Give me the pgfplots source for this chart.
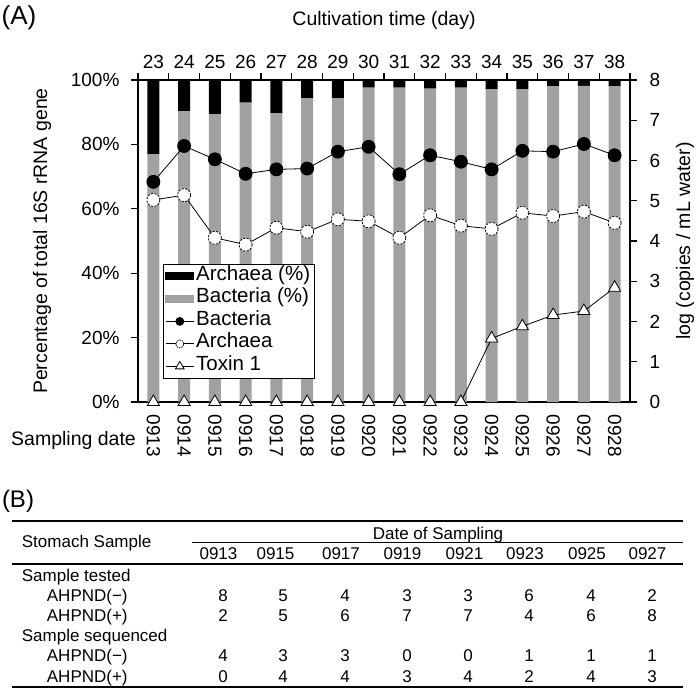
\documentclass[border=0pt]{standalone}
\usepackage{fontspec}
\setmainfont{Liberation Sans}
\usepackage{pgfplots}
\usepackage{pgfplotstable}
\pgfplotsset{compat=1.18}
\pgfplotsset{
  myleglinestyle/.style={legend image code/.code={\draw[mark repeat=2,mark phase=2,##1] plot coordinates {(0pt,0pt) (14pt,0pt) (28pt,0pt)};}},
  mylegbar/.style={legend image code/.code={\fill[##1] (0pt,-3.5pt) rectangle (28pt,3.5pt);}},
}
\newcommand{\lf}{\fontsize{20.5}{24}\selectfont}
\pgfplotstableread{
x bact arch bl al tox
0 77.0 23.0 5.47 5.02 0
1 90.3 9.7 6.36 5.14 0
2 89.4 10.6 6.03 4.08 0
3 93.0 7.0 5.67 3.91 0
4 89.6 10.4 5.78 4.33 0
5 94.4 5.6 5.80 4.23 0
6 94.4 5.6 6.22 4.54 0
7 97.6 2.4 6.34 4.49 0
8 97.6 2.4 5.66 4.08 0
9 97.3 2.7 6.13 4.64 0
10 97.6 2.4 5.97 4.38 0
11 97.1 2.9 5.78 4.30 1.58
12 97.1 2.9 6.24 4.70 1.88
13 98.0 2.0 6.22 4.62 2.16
14 98.2 1.8 6.41 4.73 2.26
15 98.1 1.9 6.13 4.45 2.84
}\data
\begin{document}
\begin{tikzpicture}
\useasboundingbox (0pt,0pt) rectangle (697pt,-689pt);
\begin{axis}[
  at={(138pt,-402pt)}, anchor=south west,
  scale only axis, width=492pt, height=322pt,
  xmin=-0.5, xmax=15.5, ymin=0, ymax=100,
  axis x line*=bottom, axis y line*=left,
  ybar stacked, bar width=12pt,
  xtick={0,...,15},
  xticklabels={0913,0914,0915,0916,0917,0918,0919,0920,0921,0922,0923,0924,0925,0926,0927,0928},
  major x tick style={draw=none},
  ytick={0,20,...,100},
  yticklabel={\pgfmathprintnumber{\tick}\%},
  /pgf/number format/assume math mode=true,
  tick align=outside, major tick length=7pt,
  ticklabel style={font=\fontsize{19}{22}\selectfont},
  x tick label style={rotate=-90, anchor=west, xshift=2pt},
  y tick label style={xshift=-8pt},
  axis line style={line width=1.1pt},
  tick style={line width=1.1pt, black},
  ylabel={Percentage of total 16S rRNA gene},
  ylabel style={at={(axis description cs:-0.195,0.5)}, anchor=center, font=\fontsize{19.5}{23}\selectfont},
]
\addplot[fill=black!37, draw=none] table[x=x, y=bact]{\data};
\addplot[fill=black, draw=none] table[x=x, y=arch]{\data};
\end{axis}
\begin{axis}[
  at={(138pt,-402pt)}, anchor=south west,
  scale only axis, width=492pt, height=322pt,
  xmin=-0.5, xmax=15.5, ymin=0, ymax=8,
  axis x line*=top, axis y line*=right,
  clip=false,
  xtick={0,...,15},
  xticklabels={23,24,25,26,27,28,29,30,31,32,33,34,35,36,37,38},
  major x tick style={draw=none},
  minor xtick={-0.5,0.5,1.5,2.5,3.5,4.5,5.5,6.5,7.5,8.5,9.5,10.5,11.5,12.5,13.5,14.5,15.5},
  minor tick length=7pt,
  minor x tick style={line width=1.1pt, black},
  ytick={0,1,...,8},
  /pgf/number format/assume math mode=true,
  tick align=outside, major tick length=7pt,
  ticklabel style={font=\fontsize{19}{22}\selectfont},
  x tick label style={yshift=1pt},
  y tick label style={xshift=9pt},
  axis line style={line width=1.1pt},
  tick style={line width=1.1pt, black},
  xlabel={Cultivation time (day)},
  xlabel style={at={(axis description cs:0.5,1.186)}, anchor=center, font=\fontsize{19.5}{23}\selectfont},
  ylabel={log (copies / mL water)},
  ylabel style={at={(axis description cs:1.1118,0.5)}, anchor=center, font=\fontsize{19.5}{23}\selectfont},
  legend style={at={(axis description cs:0.0508,0.4286)}, anchor=north west,
    draw=black, line width=0.8pt, fill=white,
    inner sep=2pt, row sep=2.5pt,
    nodes={inner sep=2pt, text height=12pt, text depth=4pt}},
  legend cell align=left,
]
\addplot[black, line width=0.8pt, mark=*, mark size=6.5pt, mark options={fill=black, solid}, forget plot] table[x=x, y=bl]{\data};
\addplot[black, line width=0.8pt, mark=*, mark size=6.5pt, mark options={fill=white, draw=black, dash pattern=on 2pt off 1.5pt}, forget plot] table[x=x, y=al]{\data};
\addplot[black, line width=0.8pt, mark=triangle*, mark size=7pt, mark options={fill=white, draw=black, solid}, forget plot] table[x=x, y=tox]{\data};
\addlegendimage{mylegbar, black}
\addlegendentry{\lf Archaea (\%)}
\addlegendimage{mylegbar, black!37}
\addlegendentry{\lf Bacteria (\%)}
\addlegendimage{myleglinestyle, black, line width=0.8pt, mark=*, mark size=4pt, mark options={fill=black}}
\addlegendentry{\lf Bacteria}
\addlegendimage{myleglinestyle, black, line width=0.8pt, mark=*, mark size=4pt, mark options={fill=white, draw=black, dash pattern=on 1.5pt off 1pt}}
\addlegendentry{\lf Archaea}
\addlegendimage{myleglinestyle, black, line width=0.8pt, mark=triangle*, mark size=5pt, mark options={fill=white, draw=black, solid}}
\addlegendentry{\lf Toxin 1}
\end{axis}
% panel labels and axis caption
\node[font=\fontsize{26}{30}\selectfont, inner sep=0pt] at (19pt,-18pt) {(A)};
\node[font=\fontsize{19.5}{23}\selectfont, inner sep=0pt, anchor=base] at (73.5pt,-445pt) {Sampling date};
\node[font=\fontsize{24}{28}\selectfont, inner sep=0pt] at (18pt,-501pt) {(B)};
% table (B)
\begin{scope}[every node/.style={font=\fontsize{17}{20}\selectfont, inner sep=0pt}]
\draw[line width=2pt] (12pt,-521pt) -- (683pt,-521pt);
\draw[line width=1pt] (192pt,-542pt) -- (683pt,-542pt);
\draw[line width=2pt] (12pt,-564pt) -- (683pt,-564pt);
\draw[line width=2pt] (12pt,-687pt) -- (683pt,-687pt);
\node[anchor=base] at (438pt,-539pt) {Date of Sampling};
\node[anchor=base west] at (21.7pt,-547pt) {Stomach Sample};
\foreach \x/\d in {218.5/0913, 275.5/0915, 341/0917, 402.5/0919, 464.5/0921, 525/0923, 587/0925, 647.5/0927}
  {\node[anchor=base] at (\x pt,-559pt) {\d};}
\node[anchor=base west] at (21.7pt,-581pt) {Sample tested};
\node[anchor=base west] at (46.7pt,-601pt) {AHPND(−)};
\node[anchor=base west] at (46.7pt,-621.5pt) {AHPND(+)};
\node[anchor=base west] at (21.7pt,-641.5pt) {Sample sequenced};
\node[anchor=base west] at (46.7pt,-661.5pt) {AHPND(−)};
\node[anchor=base west] at (46.7pt,-682pt) {AHPND(+)};
\foreach \x/\a/\b/\c/\d in {223/8/2/4/0, 283/5/5/3/4, 345/4/6/3/4, 407/3/7/0/3, 468/3/7/0/4, 529/6/4/1/2, 591/4/6/1/4, 652/2/8/1/3}
  {\node[anchor=base] at (\x pt,-601pt) {\a};
   \node[anchor=base] at (\x pt,-621.5pt) {\b};
   \node[anchor=base] at (\x pt,-661.5pt) {\c};
   \node[anchor=base] at (\x pt,-682pt) {\d};}
\end{scope}
\end{tikzpicture}
\end{document}
